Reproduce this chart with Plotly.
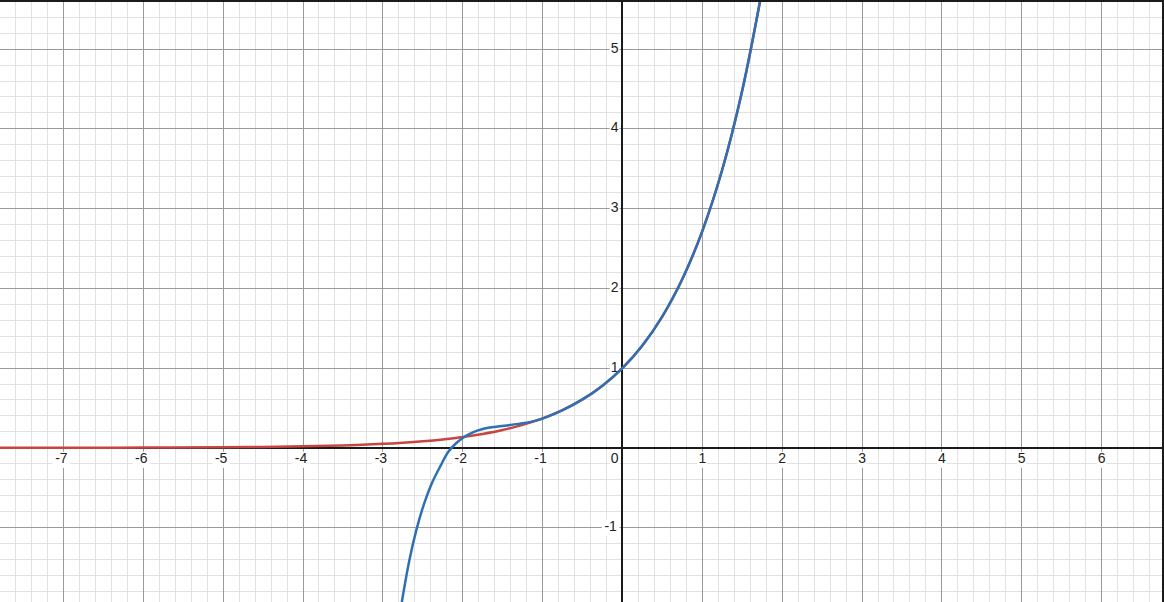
import plotly.graph_objects as go

# Red curve
red_x = [-7.85, -7.0, -6.0, -5.0, -4.5, -4.0, -3.5, -3.0, -2.75, -2.5, -2.25, -2.0, -1.75, -1.5, -1.25,
         -1.0, -0.75, -0.5, -0.25, 0.0, 0.25, 0.5, 0.75, 1.0, 1.25, 1.5, 1.73]
red_y = [0.0004, 0.0009, 0.0025, 0.0067, 0.011, 0.018, 0.030, 0.050, 0.064, 0.082, 0.105, 0.135, 0.174,
         0.223, 0.287, 0.368, 0.472, 0.607, 0.779, 1.0, 1.284, 1.649, 2.117, 2.718, 3.490, 4.482, 5.64]

# Blue curve
blue_x = [-2.78, -2.67, -2.58, -2.48, -2.38, -2.28, -2.18, -2.08, -1.99, -1.88, -1.75, -1.6, -1.45,
          -1.3, -1.15, -1.0, -0.75, -0.5, -0.25, 0.0, 0.25, 0.5, 0.75, 1.0, 1.25, 1.5, 1.73]
blue_y = [-2.04, -1.42, -1.03, -0.69, -0.43, -0.23, -0.05, 0.06, 0.13, 0.19, 0.235, 0.262, 0.28,
          0.30, 0.325, 0.366, 0.472, 0.607, 0.779, 1.0, 1.284, 1.649, 2.117, 2.718, 3.490, 4.482, 5.64]

x_tick_vals = [-7, -6, -5, -4, -3, -2, -1, 1, 2, 3, 4, 5, 6]
y_tick_vals = [-1, 1, 2, 3, 4, 5]

RED = "#c74440"
BLUE = "#2d70b3"
W, H = 1164, 602
XR = [-7.794, 6.756]
YR = [-1.934, 5.591]
kx = W / (XR[1] - XR[0])
ky = H / (YR[1] - YR[0])
CH = 7.8  # approx char width at 14px

# label positions (text centres) derived from tick values plus pixel offsets
lab_x, lab_y, lab_t = [], [], []
for v in x_tick_vals:
    lab_x.append(v - (2 / kx if v < 0 else 0))
    lab_y.append(-12 / ky)
    lab_t.append(str(v))
for v in y_tick_vals:
    w = len(str(v)) * CH
    lab_x.append(-(4 + w / 2) / kx)
    lab_y.append(v)
    lab_t.append(str(v))
lab_x.append(-(4 + CH / 2) / kx)
lab_y.append(-12 / ky)
lab_t.append("0")

shapes = []
for xc, yc, t in zip(lab_x, lab_y, lab_t):
    hw = (len(t) * CH + 2) / 2 / kx
    hh = 8 / ky
    shapes.append(dict(type="rect", xref="x", yref="y", x0=xc - hw, x1=xc + hw,
                       y0=yc - hh, y1=yc + hh, fillcolor="white", line=dict(width=0),
                       layer="between"))

fig = go.Figure()
fig.add_trace(go.Scatter(x=lab_x, y=lab_y, text=lab_t, mode="text", textposition="middle center",
                         textfont=dict(family="Liberation Sans, Arial, sans-serif", size=14, color="#222222"),
                         hoverinfo="skip", showlegend=False, cliponaxis=False))
fig.add_trace(go.Scatter(x=red_x, y=red_y, mode="lines",
                         line=dict(color=RED, width=2.5, shape="spline", smoothing=1.0),
                         hoverinfo="skip", showlegend=False))
fig.add_trace(go.Scatter(x=blue_x, y=blue_y, mode="lines",
                         line=dict(color=BLUE, width=2.5, shape="spline", smoothing=1.0),
                         hoverinfo="skip", showlegend=False))

axis_common = dict(dtick=1, tick0=0, showgrid=True, gridcolor="#9a9a9a", gridwidth=1,
                   minor=dict(dtick=0.2, tick0=0, showgrid=True, gridcolor="#e2e2e2", gridwidth=1),
                   zeroline=True, zerolinecolor="#1a1a1a", zerolinewidth=1.5,
                   showticklabels=False, ticks="",
                   showline=True, linecolor="#1a1a1a", linewidth=2, mirror=True, fixedrange=True)

fig.update_layout(
    width=W, height=H,
    margin=dict(l=0, r=0, t=0, b=0),
    paper_bgcolor="white", plot_bgcolor="white",
    shapes=shapes,
    xaxis=dict(range=XR, **axis_common),
    yaxis=dict(range=YR, **axis_common),
)

fig.write_html("out.html", config={"displayModeBar": False},
               post_script="document.body.style.margin='0';document.body.style.overflow='hidden';")
